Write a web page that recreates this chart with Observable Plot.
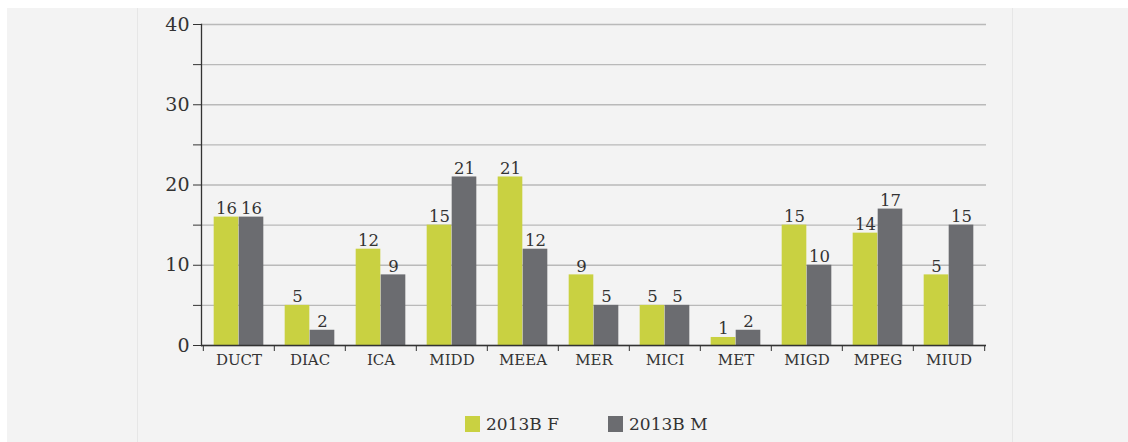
<!DOCTYPE html>
<html>
<head>
<meta charset="utf-8">
<script src="https://cdn.jsdelivr.net/npm/d3@7"></script>
<script src="https://cdn.jsdelivr.net/npm/@observablehq/plot@0.6"></script>
<style>
  html, body { margin: 0; padding: 0; background: #ffffff; width: 1128px; height: 442px; overflow: hidden; }
  #panel { position: absolute; left: 7px; top: 8px; width: 1121px; height: 434px; background: #f3f3f3; }
  .vline { position: absolute; top: 8px; width: 1px; height: 434px; background: #e6e6e6; }
  #chart { position: absolute; left: 0; top: 0; }
  #legend { position: absolute; top: 414px; left: 0; width: 1128px; height: 20px; font-family: "DejaVu Serif", serif; font-size: 17px; color: #333; }
  .item { position: absolute; top: 0; display: flex; align-items: center; height: 20px; }
  .sw { width: 15px; height: 16px; margin-right: 6px; }
</style>
</head>
<body>
<div id="panel"></div>
<div class="vline" style="left:137px"></div>
<div class="vline" style="left:1012px"></div>
<div id="chart"></div>
<div id="legend"></div>
<script>
const categories = ["DUCT","DIAC","ICA","MIDD","MEEA","MER","MICI","MET","MIGD","MPEG","MIUD"];
const seriesNames = ["2013B F","2013B M"];
const valuesF = [16, 5, 12, 15, 21, 8.8, 5, 1, 15, 14, 8.8];
const valuesM = [16, 1.9, 8.8, 21, 12, 5, 5, 1.9, 10, 17, 15];
const labelsF = ["16","5","12","15","21","9","5","1","15","14","5"];
const labelsM = ["16","2","9","21","12","5","5","2","10","17","15"];
const gridTicks = [0,5,10,15,20,25,30,35,40];
const colors = ["#c9d141", "#6b6c70"];

const W = 1128, H = 390, ML = 201, MR = 142, MT = 24, MB = 45;
const bw = (W - ML - MR) / categories.length;
const barW = 25;
const outer = (bw - 2 * barW) / 2;

const dataF = categories.map((c, i) => ({cat: c, value: valuesF[i], label: labelsF[i]}));
const dataM = categories.map((c, i) => ({cat: c, value: valuesM[i], label: labelsM[i]}));

const ink = "#333333";
const chart = Plot.plot({
  width: W, height: H,
  marginLeft: ML, marginRight: MR, marginTop: MT, marginBottom: MB,
  style: {background: "transparent", fontFamily: "DejaVu Serif, serif", color: ink},
  x: {domain: categories, padding: 0, axis: null, label: null},
  y: {domain: [0, 40], axis: null, label: null},
  marks: [
    Plot.gridY(gridTicks, {stroke: "#b9b9b9", strokeOpacity: 1, strokeWidth: 1.3}),
    Plot.barY(dataF, {x: "cat", y: "value", fill: colors[0], insetLeft: outer, insetRight: bw - outer - barW}),
    Plot.barY(dataM, {x: "cat", y: "value", fill: colors[1], insetLeft: outer + barW, insetRight: outer}),
    Plot.text(dataF, {x: "cat", y: "value", text: "label", dx: -barW/2, dy: -3, lineAnchor: "bottom", fontSize: 16.5, fill: ink}),
    Plot.text(dataM, {x: "cat", y: "value", text: "label", dx: barW/2, dy: -3, lineAnchor: "bottom", fontSize: 16.5, fill: ink}),
    Plot.ruleY([0], {stroke: ink, strokeWidth: 1.3}),
    Plot.frame({anchor: "left", stroke: ink, strokeWidth: 1.3}),
    Plot.axisY({ticks: gridTicks, label: null, tickSize: 8, tickPadding: 4, tickFormat: d => d % 10 === 0 ? String(d) : "", fontSize: 19, stroke: ink, fill: ink}),
    Plot.axisX({ticks: categories, label: null, tickSize: 0, tickPadding: 9, fontSize: 15, fill: ink, style: {letterSpacing: "0.5px"}}),
    Plot.axisX({ticks: categories, label: null, tickSize: 6, tickFormat: () => "", dx: -bw/2, stroke: ink}),
    Plot.axisX({ticks: [categories[categories.length - 1]], label: null, tickSize: 6, tickFormat: () => "", dx: bw/2, stroke: ink})
  ]
});
document.getElementById("chart").appendChild(chart);

const legend = document.getElementById("legend");
const lefts = [465, 608];
seriesNames.forEach((s, i) => {
  const it = document.createElement("div");
  it.className = "item";
  it.style.left = lefts[i] + "px";
  const sw = document.createElement("div");
  sw.className = "sw";
  sw.style.background = colors[i];
  const t = document.createElement("span");
  t.textContent = s;
  it.appendChild(sw); it.appendChild(t);
  legend.appendChild(it);
});
</script>
</body>
</html>
